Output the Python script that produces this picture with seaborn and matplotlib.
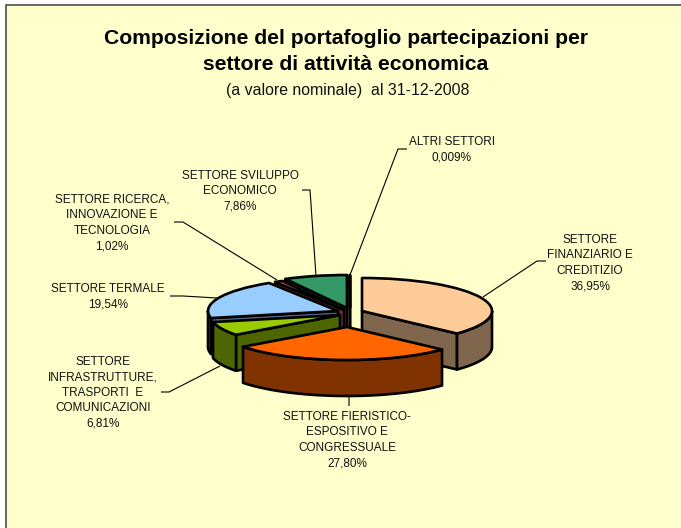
import numpy as np
import matplotlib
matplotlib.use("Agg")
import matplotlib.pyplot as plt
import seaborn as sns
from matplotlib.patches import Polygon, Rectangle
from matplotlib.transforms import Affine2D

# dati
SETTORI = [
    "SETTORE\nFINANZIARIO E\nCREDITIZIO",
    "SETTORE FIERISTICO-\nESPOSITIVO E\nCONGRESSUALE",
    "SETTORE\nINFRASTRUTTURE,\nTRASPORTI  E\nCOMUNICAZIONI",
    "SETTORE TERMALE",
    "SETTORE RICERCA,\nINNOVAZIONE E\nTECNOLOGIA",
    "SETTORE SVILUPPO\nECONOMICO",
    "ALTRI SETTORI",
]
VALORI = [36.95, 27.80, 6.81, 19.54, 1.02, 7.86, 0.009]
ETICHETTE_VALORI = ["36,95%", "27,80%", "6,81%", "19,54%", "1,02%", "7,86%", "0,009%"]
COLORI = ["#FFCC99", "#FF6600", "#99CC00", "#99CCFF", "#E8606E", "#339966", "#222222"]

# layout in pixel
W, H = 681, 528
CX, CY = 347, 311
RX, RY = 130, 33
DEPTH = 36
ESPLOSO = [(15, 0), (0, 16), (-7, 4), (-9, 0), (-3, -1), (0, -3), (3, -3)]
ZORDER = [6, 7, 5, 4, 3, 1, 2]
POS_TESTO = [(590, 240), (347, 417), (103, 362), (108, 289), (112, 200), (240, 176), (452, 142)]
GUIDE = [
    [(546, 261), (537, 261), (483, 297)],
    [(349, 406), (349, 396), (345, 395)],
    [(161, 392), (169, 392), (220, 366)],
    [(170, 296), (183, 296), (217, 298)],
    [(174, 222), (183, 222), (277, 280)],
    [(302, 190), (310, 190), (316, 276)],
    [(407, 149), (398, 149), (350, 275)],
]
FS_LABEL = 8.5
LINE_STEP = 15.4
LW = 1.9

sns.set_theme(style="white")
plt.rcParams["font.family"] = ["Liberation Sans", "DejaVu Sans"]

fig, ax = plt.subplots(figsize=(W / 100, H / 100), dpi=100)
fig.subplots_adjust(0, 0, 1, 1)
fig.patch.set_facecolor("white")

palette = sns.color_palette(COLORI)
wedges, _ = ax.pie(VALORI, colors=palette, startangle=90, counterclock=False,
                   wedgeprops={"edgecolor": "black", "linewidth": LW, "joinstyle": "round"})

ax.set_aspect("auto")
ax.set_xlim(0, W)
ax.set_ylim(H, 0)
ax.axis("off")

ax.add_patch(Rectangle((6, 5), W, H, facecolor="#FFFFCC", edgecolor="#404040",
                       linewidth=1.1, zorder=0, clip_on=False))

frazioni = np.array(VALORI) / np.sum(VALORI)
limiti = np.concatenate([[0], np.cumsum(frazioni) * 360])


def punto(theta, cx, cy):
    t = np.radians(theta)
    return cx + RX * np.sin(t), cy - RY * np.cos(t)


def parete(punti, colore, z):
    ax.add_patch(Polygon(punti, closed=True, facecolor=colore, edgecolor="black",
                         linewidth=LW, joinstyle="round", zorder=z))


for i, w in enumerate(wedges):
    cx, cy = CX + ESPLOSO[i][0], CY + ESPLOSO[i][1]
    t1, t2 = limiti[i], limiti[i + 1]
    scuro = tuple(c * 0.5 for c in palette[i])
    z = ZORDER[i] * 2

    # pareti radiali visibili: dipende dal lato rivolto verso chi guarda
    if np.sin(np.radians(t1)) < -1e-6:
        x, y = punto(t1, cx, cy)
        parete([(cx, cy), (x, y), (x, y + DEPTH), (cx, cy + DEPTH)], scuro, z)
    if np.sin(np.radians(t2)) > 1e-6:
        x, y = punto(t2, cx, cy)
        parete([(cx, cy), (x, y), (x, y + DEPTH), (cx, cy + DEPTH)], scuro, z)

    # bordo esterno, solo la metà davanti
    a, b = max(t1, 90), min(t2, 270)
    if b > a:
        xs, ys = punto(np.linspace(a, b, 40), cx, cy)
        bordo = list(zip(xs, ys)) + list(zip(xs[::-1], ys[::-1] + DEPTH))
        parete(bordo, scuro, z)

    w.set_transform(Affine2D().scale(RX, -RY).translate(cx, cy) + ax.transData)
    w.set_zorder(z + 1)
    w.set_clip_on(False)

# linee guida e testi
for i, guida in enumerate(GUIDE):
    xs, ys = zip(*guida)
    ax.plot(xs, ys, color="black", lw=0.8, zorder=20, solid_capstyle="butt")
    x, y = POS_TESTO[i]
    righe = SETTORI[i].split("\n") + [ETICHETTE_VALORI[i]]
    for k, riga in enumerate(righe):
        ax.text(x, y + k * LINE_STEP, riga, ha="center", va="center", fontsize=FS_LABEL,
                color="#111111", zorder=21)

ax.text(346, 38, "Composizione del portafoglio partecipazioni per", ha="center", va="center",
        fontsize=15.2, fontweight="bold", color="black", zorder=21)
ax.text(346, 65, "settore di attività economica", ha="center", va="center",
        fontsize=15.2, fontweight="bold", color="black", zorder=21)
ax.text(348, 90, "(a valore nominale)  al 31-12-2008", ha="center", va="center",
        fontsize=11.4, color="#111111", zorder=21)

fig.savefig("out.png", dpi=100, facecolor="white")
